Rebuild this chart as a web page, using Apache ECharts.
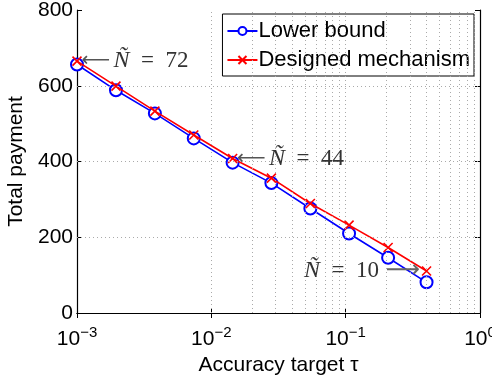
<!DOCTYPE html>
<html>
<head>
<meta charset="utf-8">
<script src="https://cdn.jsdelivr.net/npm/echarts@6/dist/echarts.min.js"></script>
<style>
  html, body { margin: 0; padding: 0; background: #fff; }
  #chart { width: 492px; height: 375px; }
</style>
</head>
<body>
<div id="chart"></div>
<script>
// accuracy target tau (x, log scale)
const tau = [0.001, 0.00195, 0.0038, 0.0074, 0.0144, 0.028, 0.0546, 0.106, 0.207, 0.4]
const lowerBound = [656, 588, 527, 461, 397, 343, 276, 210, 146, 81]
const designed = [665, 599, 533, 470, 408, 356, 289, 232, 173, 111]

// minor log grid lines: mantissa x decade
const decades = [0.001, 0.01, 0.1]
const mantissas = [2, 3, 4, 5, 6, 7, 8, 9]
const yGrid = [200, 400, 600]

// annotations: [tau, payment, N value, side]
const notes = [
  [0.001, 665, '72', 'right'],
  [0.0144, 408, '44', 'right'],
  [0.4, 111, '10', 'left']
]

const font = 'Liberation Sans, Arial, sans-serif'
const serif = 'Liberation Serif, Times New Roman, serif'

const chart = echarts.init(document.getElementById('chart'))

const gridLines = []
decades.forEach(d => mantissas.forEach(m => gridLines.push({ xAxis: +(d * m).toPrecision(3) })))
decades.slice(1).forEach(d => gridLines.push({ xAxis: d }))
yGrid.forEach(v => gridLines.push({ yAxis: v }))

const pair = (ys) => tau.map((t, i) => [t, ys[i]])

const noteData = notes.map(n => ({
  coord: [n[0], n[1]],
  label: {
    position: n[3],
    distance: n[3] === 'right' ? 4 : 6,
    formatter: n[3] === 'right'
      ? '{a|⟵} {n|Ñ}{t|  =  ' + n[2] + '}'
      : '{n|Ñ}{t|  =  ' + n[2] + '}  {b|⟶}'
  }
}))

const axisBox = { lineStyle: { color: '#000', width: 1.2 } }
const tick = { show: true, inside: true, length: 5, lineStyle: { color: '#000' } }

const option = {
  animation: false,
  grid: { left: 77, right: 12, top: 10, bottom: 62, outerBoundsMode: 'none', containLabel: false },
  legend: {
    data: ['Lower bound', 'Designed mechanism'],
    orient: 'vertical',
    right: 18,
    top: 14,
    padding: [6, 4, 5, 4],
    itemGap: 7,
    itemWidth: 30,
    itemHeight: 10,
    backgroundColor: '#fff',
    borderColor: '#000',
    borderWidth: 1,
    textStyle: { fontFamily: font, fontSize: 22, color: '#000', padding: [0, 0, 0, -4] }
  },
  xAxis: [{
    type: 'log',
    logBase: 10,
    min: 0.001,
    max: 1,
    name: 'Accuracy target τ',
    nameLocation: 'middle',
    nameGap: 31,
    nameTextStyle: { fontFamily: font, fontSize: 21, color: '#000' },
    axisLine: axisBox,
    axisTick: tick,
    splitLine: { show: false },
    axisLabel: {
      margin: 12,
      formatter: v => '{b|10}{s|' + Math.round(Math.log10(v)).toString().replace('-', '−') + '}',
      rich: {
        b: { fontFamily: font, fontSize: 21, color: '#000' },
        s: { fontFamily: font, fontSize: 15, color: '#000', padding: [0, 0, 13, 0] }
      }
    }
  }, {
    type: 'log',
    logBase: 10,
    min: 0.001,
    max: 1,
    position: 'top',
    axisLine: axisBox,
    axisTick: tick,
    axisLabel: { show: false },
    splitLine: { show: false }
  }],
  yAxis: [{
    type: 'value',
    min: 0,
    max: 800,
    interval: 200,
    name: 'Total payment',
    nameLocation: 'middle',
    nameGap: 40,
    nameTextStyle: { fontFamily: font, fontSize: 21, color: '#000' },
    axisLine: { show: true, lineStyle: axisBox.lineStyle },
    axisTick: tick,
    splitLine: { show: false },
    axisLabel: { fontFamily: font, fontSize: 21, color: '#000', margin: 4 }
  }, {
    type: 'value',
    min: 0,
    max: 800,
    interval: 200,
    position: 'right',
    axisLine: { show: true, lineStyle: axisBox.lineStyle },
    axisTick: tick,
    axisLabel: { show: false },
    splitLine: { show: false }
  }],
  series: [
    {
      name: 'Lower bound',
      type: 'line',
      data: pair(lowerBound),
      z: 3,
      symbol: 'emptyCircle',
      symbolSize: 12,
      lineStyle: { color: '#0000ff', width: 1.6 },
      itemStyle: { color: '#0000ff', borderWidth: 1.6 }
    },
    {
      name: 'Designed mechanism',
      type: 'line',
      data: pair(designed),
      z: 4,
      symbol: 'path://M0,0L10,10M10,0L0,10',
      symbolSize: 9,
      lineStyle: { color: '#ff0000', width: 1.6 },
      itemStyle: { color: '#ff0000', borderColor: '#ff0000', borderWidth: 1.6 },
      markPoint: {
        symbol: 'circle',
        symbolSize: 1,
        itemStyle: { color: 'rgba(0,0,0,0)', borderWidth: 0 },
        label: {
          show: true,
          rich: {
            a: { fontFamily: 'DejaVu Sans', fontSize: 20, color: '#555' },
            b: { fontFamily: 'DejaVu Sans', fontSize: 24, color: '#666' },
            n: { fontFamily: serif, fontStyle: 'italic', fontSize: 24, color: '#333' },
            t: { fontFamily: serif, fontSize: 23, color: '#333' }
          }
        },
        data: noteData
      }
    },
    {
      name: 'gridlines',
      type: 'line',
      data: [],
      z: 1,
      silent: true,
      markLine: {
        silent: true,
        symbol: 'none',
        label: { show: false },
        lineStyle: { color: '#aaa', type: [1, 3], width: 1 },
        data: gridLines
      }
    }
  ]
}

chart.setOption(option)
</script>
</body>
</html>
